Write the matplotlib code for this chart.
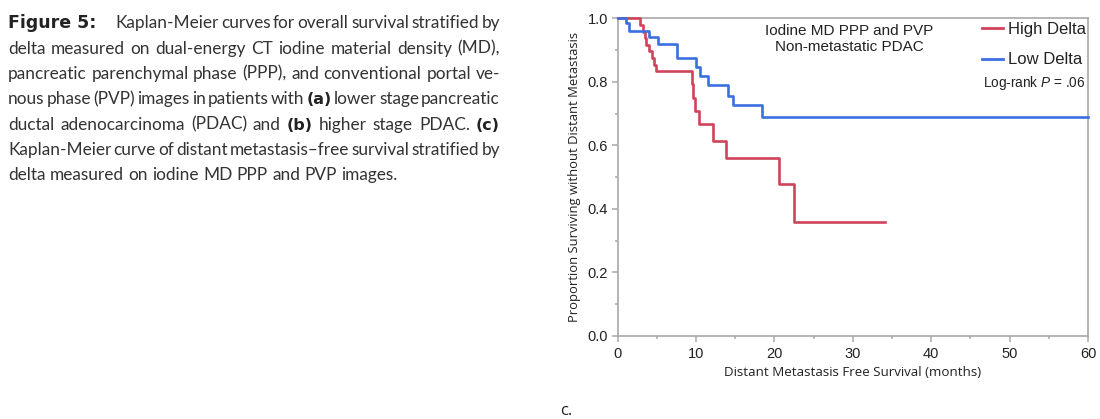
import matplotlib
matplotlib.use("Agg")
import matplotlib.pyplot as plt
from matplotlib.lines import Line2D

# Kaplan-Meier curves (months, proportion)
high_t = [0, 2.8, 3.2, 3.45, 3.6, 3.95, 4.35, 4.6, 4.85, 9.45, 9.66, 9.87, 10.38, 12.21, 13.79, 20.64, 22.55, 34.1]
high_s = [1.0, 0.979, 0.958, 0.938, 0.917, 0.896, 0.875, 0.854, 0.833, 0.792, 0.750, 0.708, 0.667, 0.614, 0.559, 0.478, 0.359, 0.359]
low_t = [0, 1.06, 1.40, 4.0, 5.19, 7.61, 10.0, 10.51, 11.57, 14.05, 14.76, 18.39, 60]
low_s = [1.0, 0.984, 0.961, 0.942, 0.919, 0.874, 0.848, 0.819, 0.791, 0.754, 0.727, 0.688, 0.688]
labels = ["High Delta", "Low Delta"]
colors = ["#d0435a", "#3b6fe0"]

# caption, one list of (word, bold) per printed line
caption = [
    [("Kaplan-Meier", 0), ("curves", 0), ("for", 0), ("overall", 0), ("survival", 0), ("stratified", 0), ("by", 0)],
    [(w, 0) for w in "delta measured on dual-energy CT iodine material density (MD),".split()],
    [(w, 0) for w in "pancreatic parenchymal phase (PPP), and conventional portal ve-".split()],
    [(w, 0) for w in "nous phase (PVP) images in patients with".split()] + [("(a)", 1)]
    + [(w, 0) for w in "lower stage pancreatic".split()],
    [(w, 0) for w in "ductal adenocarcinoma (PDAC) and".split()] + [("(b)", 1)]
    + [(w, 0) for w in "higher stage PDAC.".split()] + [("(c)", 1)],
    [(w, 0) for w in "Kaplan-Meier curve of distant metastasis\u2013free survival stratified by".split()],
    [(w, 0) for w in "delta measured on iodine MD PPP and PVP images.".split()],
]

W, H = 1100, 419
plt.rcParams["mathtext.fontset"] = "custom"
plt.rcParams["mathtext.it"] = "Liberation Sans:italic"
plt.rcParams["mathtext.rm"] = "Liberation Sans"

fig = plt.figure(figsize=(W / 100, H / 100), dpi=100)
renderer = fig.canvas.get_renderer()

# --- caption text, justified by hand ---
cap_font = dict(family="Lato", fontsize=12.4, color="#333333")
bold_font = dict(family="DejaVu Sans", fontsize=11.5, fontweight="bold", color="#222222")
x_left, x_right = 8, 500
baseline = 28.3
step = 25.3
space_w = (fig.text(0, 0, "a a", **cap_font).get_window_extent(renderer).width
           - 2 * fig.text(0, 0, "a", **cap_font).get_window_extent(renderer).width)
for t in fig.texts[:]:
    t.remove()
for i, line in enumerate(caption):
    y = 1 - (baseline + i * step) / H
    start = x_left
    if i == 0:
        fig.text(x_left / W, y, "Figure 5:", va="baseline", **dict(bold_font, fontsize=12.5))
        start = 115
    texts = []
    for w, b in line:
        t = fig.text(0, y, w, va="baseline", **(bold_font if b else cap_font))
        texts.append(t)
    widths = [t.get_window_extent(renderer).width for t in texts]
    if i < len(caption) - 1:
        gap = (x_right - start - sum(widths)) / (len(texts) - 1)
    else:
        gap = space_w
    x = start
    for t, w in zip(texts, widths):
        t.set_x(x / W)
        x += w + gap

fig.text(560 / W, 1 - 415 / H, "c.", family="Open Sans", fontsize=12, va="baseline", color="#222222")

# --- Kaplan-Meier plot ---
ax = fig.add_axes([617.7 / W, 1 - 335.8 / H, 470.3 / W, 317.5 / H])
ax.step(high_t, high_s, where="post", color=colors[0], lw=1.9, clip_on=False, zorder=3)
ax.step(low_t, low_s, where="post", color=colors[1], lw=1.9, clip_on=False, zorder=3)

ax.set_xlim(0, 60)
ax.set_ylim(0, 1)
ax.set_xticks(range(0, 61, 10))
ax.set_xticks(range(5, 60, 10), minor=True)
ax.set_yticks([0, 0.2, 0.4, 0.6, 0.8, 1.0])
ax.set_yticks([0.1, 0.3, 0.5, 0.7, 0.9], minor=True)
ax.set_yticklabels(["0.0", "0.2", "0.4", "0.6", "0.8", "1.0"])
for s in ax.spines.values():
    s.set_color("#a8a8a8")
    s.set_linewidth(1.2)
ax.tick_params(which="major", length=4, width=1.1, color="#a8a8a8", labelsize=10.5,
               labelcolor="#222222")
ax.tick_params(which="minor", length=2.5, width=1.1, color="#a8a8a8")
ax.tick_params(axis="x", pad=4)
ax.tick_params(axis="y", pad=3)
for lab in ax.get_xticklabels() + ax.get_yticklabels():
    lab.set_family("Liberation Sans")

ax.set_xlabel("Distant Metastasis Free Survival (months)", family="Open Sans", fontsize=9.6,
              color="#222222", labelpad=4)
ax.set_ylabel("Proportion Surviving without Distant Metastasis", family="Open Sans", fontsize=9.4,
              color="#222222", labelpad=5)

ax.text(0.492, 0.935, "Iodine MD PPP and PVP\nNon-metastatic PDAC", transform=ax.transAxes,
        ha="center", va="center", family="Liberation Sans", fontsize=11, linespacing=1.2,
        color="#222222")

handles = [Line2D([], [], color=c, lw=2) for c in colors]
leg = ax.legend(handles, labels, loc="upper right", bbox_to_anchor=(1.0, 0.995), frameon=False,
                prop={"family": "Liberation Sans", "size": 12}, handlelength=1.3,
                handletextpad=0.3, labelspacing=0.95, borderaxespad=0.0, borderpad=0.1)
for t in leg.get_texts():
    t.set_color("#222222")

ax.text(0.994, 0.795, "Log-rank $\\it{P}$ = .06", transform=ax.transAxes, ha="right", va="center",
        family="Liberation Sans", fontsize=9.8, color="#222222")

fig.savefig("out.png", dpi=100)
